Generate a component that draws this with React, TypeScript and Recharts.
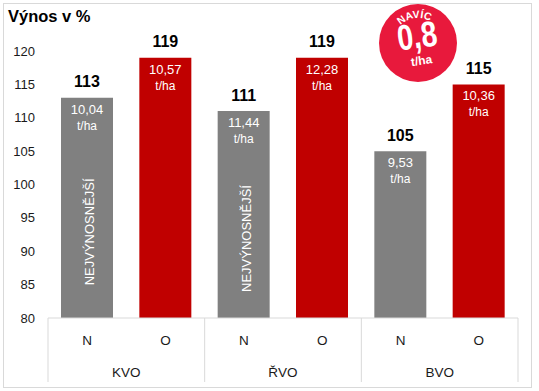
import { BarChart, Bar, XAxis, YAxis, Cell, LabelList } from 'recharts';

const groupNames = ['KVO', 'ŘVO', 'BVO'];
const variants = ['N', 'O'];
const relativeYield = [113, 119, 111, 119, 105, 115];
const yieldTha = ['10,04', '10,57', '11,44', '12,28', '9,53', '10,36'];
const bestMarks = [true, false, true, false, false, false];
const yTicks = [80, 85, 90, 95, 100, 105, 110, 115, 120];

const GRAY = '#808080';
const RED = '#C00000';
const LINE = '#D9D9D9';
const FONT = '"Liberation Sans", Arial, sans-serif';

const W = 539;
const H = 391;
const PLOT_LEFT = 48;
const PLOT_RIGHT = 518;
const PLOT_BOTTOM = 318;
const SLOT = (PLOT_RIGHT - PLOT_LEFT) / 6;

const data = relativeYield.map((v, i) => ({
  key: `${groupNames[Math.floor(i / 2)]}-${variants[i % 2]}`,
  variant: variants[i % 2],
  group: groupNames[Math.floor(i / 2)],
  value: v,
}));

function XTick(props: any) {
  const { x, payload } = props;
  const i = payload.index;
  return (
    <g>
      <text x={x} y={PLOT_BOTTOM + 27} textAnchor="middle" fontSize={13.5} fill="#1a1a1a" fontFamily={FONT}>
        {variants[i % 2]}
      </text>
      {i % 2 === 0 && (
        <>
          <text x={x + SLOT / 2} y={PLOT_BOTTOM + 59} textAnchor="middle" fontSize={13.5} fill="#1a1a1a" fontFamily={FONT}>
            {groupNames[i / 2]}
          </text>
          <line x1={x - SLOT / 2} x2={x - SLOT / 2} y1={PLOT_BOTTOM} y2={PLOT_BOTTOM + 64} stroke={LINE} />
        </>
      )}
      {i === 5 && (
        <line x1={x + SLOT / 2} x2={x + SLOT / 2} y1={PLOT_BOTTOM} y2={PLOT_BOTTOM + 64} stroke={LINE} />
      )}
    </g>
  );
}

function BarLabels(props: any) {
  const { x, y, width, height, index } = props;
  const cx = x + width / 2;
  return (
    <g fontFamily={FONT}>
      <text x={cx} y={y - 10.5} textAnchor="middle" fontSize={16} fontWeight="bold" fill="#000">
        {relativeYield[index]}
      </text>
      <text x={cx} y={y + 16} textAnchor="middle" fontSize={13} fill="#fff">
        {yieldTha[index]}
      </text>
      <text x={cx} y={y + 32} textAnchor="middle" fontSize={12} fill="#fff">
        t/ha
      </text>
      {bestMarks[index] && (
        <text
          transform={`translate(${cx + 7}, ${y + height / 2 + 24}) rotate(-90)`}
          textAnchor="middle"
          fontSize={13}
          fill="#fff"
        >
          NEJVÝNOSNĚJŠÍ
        </text>
      )}
    </g>
  );
}

export default function App() {
  const bx = 418;
  const by = 43;
  const br = 39;
  return (
    <div style={{ position: 'absolute', left: 0, top: 0, width: W, height: H, background: '#fff' }}>
      <div
        style={{
          position: 'absolute', left: 3, top: 3, width: 529, height: 385,
          border: `1px solid ${LINE}`, boxSizing: 'border-box',
        }}
      />
      <div style={{ position: 'absolute', left: 0, top: 0 }}>
        <BarChart width={W} height={H} data={data} margin={{ top: 51, right: W - PLOT_RIGHT, left: 0, bottom: 9 }}>
          <XAxis
            dataKey="key"
            height={64}
            interval={0}
            tickLine={false}
            axisLine={{ stroke: LINE }}
            tick={<XTick />}
          />
          <YAxis
            width={PLOT_LEFT}
            domain={[80, 120]}
            ticks={yTicks}
            axisLine={false}
            tickLine={false}
            tickSize={0}
            tickMargin={13}
            tick={{ fontSize: 13, fill: '#1a1a1a', fontFamily: FONT }}
          />
          <Bar dataKey="value" barSize={52} isAnimationActive={false}>
            {data.map((d, i) => (
              <Cell key={d.key} fill={i % 2 === 0 ? GRAY : RED} />
            ))}
            <LabelList dataKey="value" content={<BarLabels />} />
          </Bar>
        </BarChart>
      </div>
      <svg width={W} height={H} style={{ position: 'absolute', left: 0, top: 0, pointerEvents: 'none' }}>
        <text x={8} y={22} fontSize={16.5} fontWeight="bold" fill="#000" fontFamily={FONT}>
          Výnos v %
        </text>
        <circle cx={bx} cy={by} r={br} fill="#E8193C" />
        <defs>
          <path id="navicArc" d={`M ${bx - 25} ${by} A 25 25 0 0 1 ${bx + 25} ${by}`} />
        </defs>
        <g transform={`rotate(-8 ${bx} ${by})`} fontFamily={FONT} fill="#fff" fontWeight="bold">
          <text fontSize={10.5}>
            <textPath href="#navicArc" startOffset="50%" textAnchor="middle">NAVÍC</textPath>
          </text>
          <text x={bx} y={by + 5} fontSize={36} textAnchor="middle" textLength={40} lengthAdjust="spacingAndGlyphs">
            0,8
          </text>
          <text x={bx + 1} y={by + 22} fontSize={12} textAnchor="middle">
            t/ha
          </text>
        </g>
      </svg>
    </div>
  );
}
